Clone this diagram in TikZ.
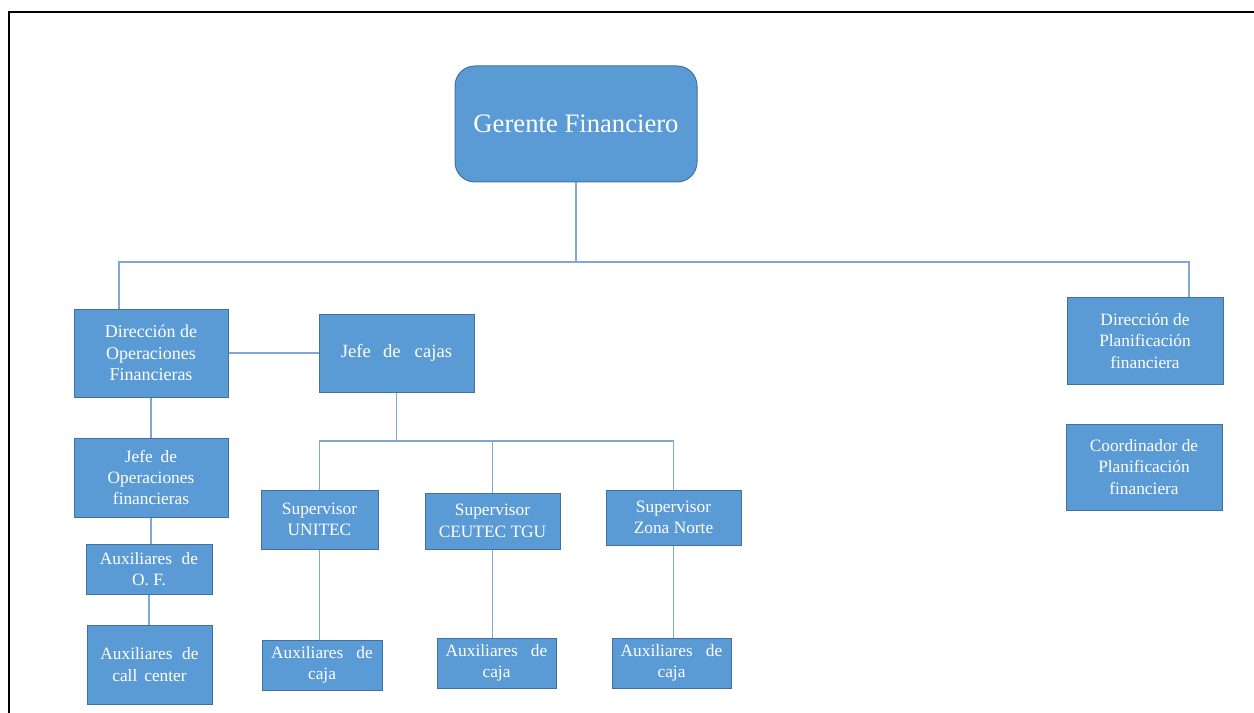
\documentclass[tikz,border=0pt]{standalone}
\usepackage{fontspec}
\setmainfont{Liberation Serif}
\usetikzlibrary{calc}
\definecolor{boxfill}{HTML}{5B9BD5}
\definecolor{boxedge}{HTML}{41719C}
\definecolor{linkcol}{HTML}{7FA6D4}
\begin{document}
\begin{tikzpicture}[x=0.75pt,y=-0.75pt,
  box/.style={draw=boxedge,fill=boxfill,line width=0.75pt,text=white,align=center,
    inner sep=1pt,font=\rmfamily\fontsize{13}{16}\selectfont},
  sz/.style 2 args={minimum width=#1*0.75pt,minimum height=#2*0.75pt},
  link/.style={draw=linkcol,line width=0.8pt},
  frameline/.style={draw=black,line width=1.6pt}]
\useasboundingbox (0,0) rectangle (1254,713);
% page frame
\draw[frameline] (9,713) -- (9,12) -- (1256,12);

% top level
\node[box,sz={242}{116},rounded corners=15pt,font=\rmfamily\fontsize{20}{24}\selectfont] (gf) at (576,124) {Gerente Financiero};

% left branch
\node[box,sz={154}{88},font=\rmfamily\fontsize{13.5}{16}\selectfont] (dof) at (151,353) {Dirección de\\Operaciones\\Financieras};
\node[box,sz={155}{78},font=\rmfamily\fontsize{14}{17}\selectfont] (jc) at (396.5,353) {Jefe\hspace{0.4em} de\hspace{0.5em} cajas};
\node[box,sz={154}{79}] (jof) at (151,477.5) {Jefe\hspace{0.2em} de\\Operaciones\\financieras};
\node[box,sz={126}{50}] (aof) at (149,569) {Auxiliares\hspace{0.3em} de\\O. F.};
\node[box,sz={125}{79}] (acc) at (149.5,664.5) {Auxiliares\hspace{0.3em} de\\call\hspace{0.15em} center};

% supervisors
\node[box,sz={117}{59}] (s1) at (319.5,519.5) {Supervisor\\UNITEC};
\node[box,sz={135}{56}] (s2) at (492.5,521) {Supervisor\\CEUTEC TGU};
\node[box,sz={135}{55}] (s3) at (673.5,517.5) {Supervisor\\Zona Norte};
\node[box,sz={120}{50}] (ac1) at (322,665) {Auxiliares\hspace{0.5em} de\\caja};
\node[box,sz={119}{50}] (ac2) at (496.5,663) {Auxiliares\hspace{0.5em} de\\caja};
\node[box,sz={119}{50}] (ac3) at (671.5,663) {Auxiliares\hspace{0.5em} de\\caja};

% right branch
\node[box,sz={156}{86}] (dpf) at (1145,341) {Dirección de\\Planificación\\financiera};
\node[box,sz={156}{86}] (cpf) at (1144,467) {Coordinador de\\Planificación\\financiera};

% bus points
\coordinate (b1) at (576,262);
\coordinate (b2) at (396.5,441);

% connectors
\draw[link] (gf.south) -- (b1);
\draw[link] ($(dof.north)+(-32,0)$) |- (b1) -| ($(dpf.north)+(44,0)$);
\draw[link] ($(dpf.south)+(44,0)$) -- ($(dpf.south)+(44,0)$ |- cpf.north);
\draw[link] (dof.east) -- (jc.west);
\draw[link] (dof.south) -- (jof.north);
\draw[link] (jof.south) -- (jof.south |- aof.north);
\draw[link] (aof.south) -- (aof.south |- acc.north);
\draw[link] (jc.south) -- (b2);
\draw[link] (s1.north) |- (b2) -| (s3.north);
\draw[link] (s2.north) -- (s2.north |- b2);
\draw[link] (s1.south) -- (s1.south |- ac1.north);
\draw[link] (s2.south) -- (s2.south |- ac2.north);
\draw[link] (s3.south) -- (s3.south |- ac3.north);
\end{tikzpicture}
\end{document}
